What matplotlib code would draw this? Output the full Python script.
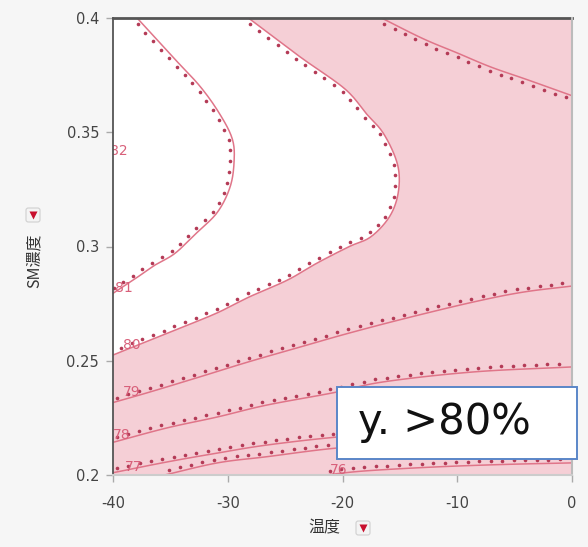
import numpy as np
import matplotlib
matplotlib.use("Agg")
import matplotlib.pyplot as plt
from matplotlib.patches import Rectangle, FancyBboxPatch, Polygon

# ---------------- data ----------------
x_ticks = [-40, -30, -20, -10, 0]
x_tick_labels = ["-40", "-30", "-20", "-10", "0"]
y_ticks = [0.2, 0.25, 0.3, 0.35, 0.4]
y_tick_labels = ["0.2", "0.25", "0.3", "0.35", "0.4"]

c81_x = [-37.9, -34.8, -32.4, -30.7, -29.6, -29.45, -29.8, -30.9, -32.7, -34.6, -36.3, -37.6, -40.0]
c81_y = [0.400, 0.383, 0.370, 0.358, 0.347, 0.337, 0.326, 0.315, 0.306, 0.297, 0.292, 0.2875, 0.2795]

c80_x = [-28.2, -23.7, -19.8, -17.9, -16.5, -15.4, -15.05, -15.3, -16.1, -17.6, -19.4,
         -22.2, -24.8, -28.1, -30.9, -33.9, -36.8, -40.0]
c80_y = [0.400, 0.383, 0.369, 0.358, 0.350, 0.339, 0.330, 0.320, 0.3116, 0.304, 0.300,
         0.2928, 0.2853, 0.278, 0.271, 0.2648, 0.259, 0.2525]

c79top_x = [-16.6, -13.0, -10.0, -7.1, -3.9, 0.0]
c79top_y = [0.400, 0.391, 0.3847, 0.3786, 0.373, 0.366]

c79_x = [-40.0, -36.8, -32.4, -28.2, -23.7, -19.5, -14.4, -8.6, -4.3, 0.0]
c79_y = [0.2317, 0.2363, 0.243, 0.2495, 0.256, 0.262, 0.2687, 0.2757, 0.280, 0.2827]

c78_x = [-40.0, -35.3, -30.9, -26.6, -20.8, -16.5, -8.6, 0.0]
c78_y = [0.2143, 0.2206, 0.2254, 0.2306, 0.236, 0.2407, 0.2451, 0.2473]

c77_x = [-40.0, -35.3, -30.9, -26.6, -20.5, -13.0, -6.0, 0.0]
c77_y = [0.201, 0.2057, 0.2096, 0.2131, 0.2166, 0.2195, 0.2215, 0.2225]

c77b_x = [-35.5, -30.9, -26.6, -20.5, -13.0, -6.0, 0.0]
c77b_y = [0.200, 0.2053, 0.208, 0.2118, 0.2145, 0.2163, 0.2172]

c76_x = [-21.5, -18.0, -12.0, -6.0, 0.0]
c76_y = [0.200, 0.2018, 0.2035, 0.2046, 0.2053]

contour_labels = ["82", "81", "80", "79", "78", "77", "76"]
label_x = [-40.25, -39.8, -39.1, -39.1, -40.0, -39.0, -21.1]
label_y = [0.3418, 0.2818, 0.2569, 0.2363, 0.2175, 0.2035, 0.2022]

box_text = "y. >80%"
x_label = "温度"
y_label = "SM濃度"

# ---------------- styles ----------------
PINK = "#f5cfd6"
LINE = "#e07589"
DOT = "#b43a56"
LABEL = "#d8607a"
BG = "#f6f6f6"

W, H = 588, 547
fig = plt.figure(figsize=(W / 100, H / 100), dpi=100)
fig.patch.set_facecolor(BG)

ax_l, ax_r, ax_t, ax_b = 113, 572, 18, 475
ax = fig.add_axes([ax_l / W, 1 - ax_b / H, (ax_r - ax_l) / W, (ax_b - ax_t) / H])
ax.set_xlim(-40, 0)
ax.set_ylim(0.2, 0.4)
ax.set_facecolor(PINK)

fig.canvas.draw()
inv = ax.transData.inverted()


def smooth_display(cx, cy, per=12):
    """Catmull-Rom rendering of the read points, in display space."""
    p = ax.transData.transform(np.column_stack([cx, cy]))
    P = np.vstack([2 * p[0] - p[1], p, 2 * p[-1] - p[-2]])
    out = []
    t = np.linspace(0, 1, per, endpoint=False)[:, None]
    for i in range(1, len(P) - 2):
        p0, p1, p2, p3 = P[i - 1], P[i], P[i + 1], P[i + 2]
        seg = 0.5 * ((2 * p1) + (-p0 + p2) * t + (2 * p0 - 5 * p1 + 4 * p2 - p3) * t ** 2
                     + (-p0 + 3 * p1 - 3 * p2 + p3) * t ** 3)
        out.append(seg)
    out.append(p[-1:])
    return np.vstack(out)


# white (feasible) region bounded by the 80 contour and the top-left corner
b80 = inv.transform(smooth_display(c80_x, c80_y))
poly = list(map(tuple, b80)) + [(-40, 0.4)]
ax.add_patch(Polygon(poly, closed=True, facecolor="white", edgecolor="none", zorder=1))

curves = [
    (c81_x, c81_y, -1),
    (c80_x, c80_y, -1),
    (c79top_x, c79top_y, -1),
    (c79_x, c79_y, 1),
    (c78_x, c78_y, 1),
    (c77_x, c77_y, 1),
    (c77b_x, c77b_y, 1),
    (c76_x, c76_y, 1),
]

for cx, cy, side in curves:
    pts = smooth_display(cx, cy)
    dline = inv.transform(pts)
    ax.plot(dline[:, 0], dline[:, 1], color=LINE, lw=1.1, zorder=3)
    seg = np.hypot(np.diff(pts[:, 0]), np.diff(pts[:, 1]))
    s = np.concatenate([[0], np.cumsum(seg)])
    sd = np.arange(5, s[-1] - 2, 11.5)
    px = np.interp(sd, s, pts[:, 0])
    py = np.interp(sd, s, pts[:, 1])
    tx = np.interp(sd + 1, s, pts[:, 0]) - np.interp(sd - 1, s, pts[:, 0])
    ty = np.interp(sd + 1, s, pts[:, 1]) - np.interp(sd - 1, s, pts[:, 1])
    n = np.hypot(tx, ty)
    n[n == 0] = 1
    nx, ny = -ty / n * side, tx / n * side
    d = inv.transform(np.column_stack([px + 3.8 * nx, py + 3.8 * ny]))
    ax.plot(d[:, 0], d[:, 1], ls="none", marker="o", ms=2.6, color=DOT, mec="none", zorder=4)

for lab, lx, ly in zip(contour_labels, label_x, label_y):
    ax.text(lx, ly, lab, color=LABEL, fontsize=10, family="DejaVu Sans",
            ha="left", va="center", zorder=5, clip_on=True)

# frame
for sp in ax.spines.values():
    sp.set_visible(False)
ax.plot([0, 1], [1, 1], transform=ax.transAxes, color="#555555", lw=2.0, clip_on=False, zorder=6)
ax.plot([0, 0], [0, 1], transform=ax.transAxes, color="#555555", lw=1.3, clip_on=False, zorder=6)
ax.plot([1, 1], [0, 1], transform=ax.transAxes, color="#bbbbbb", lw=1.5, clip_on=False, zorder=6)
ax.plot([0, 1], [0, 0], transform=ax.transAxes, color="#cccccc", lw=1.5, clip_on=False, zorder=6)

ax.set_xticks(x_ticks)
ax.set_xticklabels(x_tick_labels)
ax.set_yticks(y_ticks)
ax.set_yticklabels(y_tick_labels)
ax.tick_params(direction="out", length=5, width=1, color="#aaaaaa",
               labelcolor="#444444", labelsize=10.5)
ax.tick_params(axis="y", pad=5)
ax.tick_params(axis="x", pad=10)
for t in ax.get_xticklabels() + ax.get_yticklabels():
    t.set_family("DejaVu Sans")

# axis titles with dropdown icons
cjk = ["Noto Sans CJK JP", "DejaVu Sans"]
fig.text(324 / W, 1 - 528 / H, x_label, family=cjk, fontsize=11.5, color="#333333",
         ha="center", va="center")
fig.text(34 / W, 1 - 261 / H, y_label, family=cjk, fontsize=11.5, color="#333333",
         ha="center", va="center", rotation=90)


def icon(cx, cy):
    s = 14
    fig.patches.append(FancyBboxPatch(((cx - s / 2) / W, 1 - (cy + s / 2) / H), s / W, s / H,
                                      boxstyle="round,pad=0,rounding_size=0.004",
                                      transform=fig.transFigure, facecolor="#f4f4f4",
                                      edgecolor="#d0d0d0", lw=0.8))
    fig.lines.append(plt.Line2D([cx / W], [1 - cy / H], transform=fig.transFigure,
                                marker="v", ms=6, color="#c8102e", mec="none"))


icon(363, 528)
icon(33, 215)

# annotation box
bx0, bx1, by0, by1 = 337, 577, 387, 459
fig.patches.append(Rectangle((bx0 / W, 1 - by1 / H), (bx1 - bx0) / W, (by1 - by0) / H,
                             transform=fig.transFigure, facecolor="white",
                             edgecolor="#5a86c8", lw=1.4, zorder=10))
fig.text(358 / W, 1 - 434 / H, box_text, fontsize=30, family="DejaVu Sans", color="#111111",
         ha="left", va="baseline", zorder=11)

fig.savefig("out.png", dpi=100, facecolor=BG)
